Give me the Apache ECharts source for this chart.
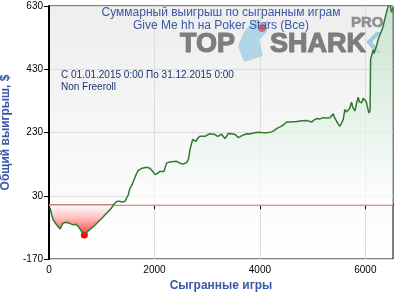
<!DOCTYPE html>
<html><head><meta charset="utf-8">
<script src="https://cdn.jsdelivr.net/npm/echarts@6/dist/echarts.min.js"></script>
<style>html,body{margin:0;padding:0;background:#fff}#c{width:394px;height:295px}</style>
</head><body><div id="c"></div>
<script>
const games = [20,50,80,110,145,175,210,240,270,300,330,365,400,430,460,500,530,555,590,620,650,670,700,745,780,810,840,870,900,935,970,1000,1030,1060,1090,1125,1160,1190,1220,1250,1283,1310,1340,1378,1410,1441,1470,1504,1536,1568,1600,1631,1660,1694,1720,1750,1789,1820,1850,1884,1915,1947,1980,2010,2029,2060,2080,2105,2140,2180,2200,2232,2260,2290,2327,2360,2390,2421,2450,2480,2516,2550,2579,2610,2642,2660,2674,2700,2725,2750,2787,2820,2863,2900,2958,3000,3053,3090,3148,3190,3230,3270,3300,3337,3370,3400,3432,3470,3500,3527,3560,3590,3622,3660,3700,3716,3760,3800,3843,3900,3970,4030,4095,4160,4222,4270,4317,4360,4412,4460,4507,4540,4570,4632,4700,4759,4820,4886,4930,4981,5030,5076,5140,5201,5260,5328,5360,5391,5420,5455,5480,5500,5518,5545,5580,5600,5612,5640,5675,5700,5720,5739,5760,5780,5802,5830,5865,5890,5929,5960,5991,6015,6036,6055,6073,6090,6100,6118,6149,6165,6181,6213,6244,6276,6307,6339,6371,6402,6433,6465,6497,6520];
const winnings = [-8,-30,-46,-52,-62,-66,-75,-70,-56,-60,-54,-55,-58,-57,-62,-60,-66,-67,-75,-83,-90,-94,-89,-81,-77,-72,-67,-63,-60,-52,-47,-42,-36,-31,-27,-20,-14,-8,1,6,12,9,13,10,14,12,22,33,54,62,75,88,100,110,106,116,118,113,120,123,117,113,104,97,93,101,98,107,103,107,112,134,131,137,136,138,135,139,137,133,134,130,128,135,144,160,176,192,208,206,202,212,218,214,218,222,226,221,224,218,220,225,221,211,218,227,231,226,228,224,218,214,213,220,223,224,226,225,227,229,231,230,229,230,232,236,242,246,250,256,263,262,263,264,265,266,267,268,266,263,270,274,273,277,276,277,282,289,276,266,258,262,250,258,271,290,303,295,292,305,316,326,310,315,298,320,342,326,324,338,335,328,314,300,292,300,462,472,492,480,483,504,525,530,551,567,589,610,628,640,610,622];
const xTicks = [0,2000,4000,6000];
const yTicks = [-170,30,230,430,630];
const minPoint = [670,-94];

const chart = echarts.init(document.getElementById('c'));
const data = games.map((g,i)=>[g,winnings[i]]);
const blue = '#3a58a6';
const wm = {font:'bold 27px Liberation Sans',fill:'#7d7d7d',stroke:'#7d7d7d',lineWidth:1.2};
chart.setOption({
  animation:false,
  backgroundColor:'#fff',
  textStyle:{fontFamily:'Liberation Sans, Arial, sans-serif'},
  grid:{left:49,right:1,top:6,bottom:36,outerBoundsMode:'none',containLabel:false,show:true,borderColor:'#000',borderWidth:1,
    backgroundColor:{type:'linear',x:0,y:0,x2:0,y2:1,colorStops:[{offset:0,color:'#eeeeee'},{offset:1,color:'#ffffff'}]}},
  graphic:[
    {type:'polygon',z:100,silent:true,shape:{points:[[244,62],[238,46],[244,32],[252,22],[258,19],[262,24],[268,20],[267,32],[259,40],[263,56]]},style:{fill:'rgba(150,200,225,0.7)'}},
    {type:'circle',z:101,silent:true,shape:{cx:262,cy:28,r:4},style:{fill:'rgba(225,80,90,0.8)'}},
    {type:'polygon',z:100,silent:true,shape:{points:[[376,32],[366,42],[376,53],[382,53],[372,42],[382,32]]},style:{fill:'rgba(150,200,225,0.9)'}},
    {type:'text',z:100,silent:true,x:180,y:31,style:Object.assign({text:'TOP'},wm)},
    {type:'text',z:100,silent:true,x:270,y:31,style:Object.assign({text:'SHARK'},wm)},
    {type:'text',z:100,silent:true,x:351,y:15,style:{text:'PRO',font:'bold 15px Liberation Sans',fill:'#8f8f8f',stroke:'#8f8f8f',lineWidth:0.6}},
    {type:'text',z:110,silent:true,x:221,y:7,style:{text:'Суммарный выигрыш по сыгранным играм',font:'12px Liberation Sans',fill:blue,textAlign:'center'}},
    {type:'text',z:110,silent:true,x:221,y:20,style:{text:'Give Me hh на Poker Stars (Все)',font:'12px Liberation Sans',fill:blue,textAlign:'center'}},
    {type:'text',z:110,silent:true,x:61,y:70,style:{text:'С 01.01.2015 0:00 По 31.12.2015 0:00',font:'10px Liberation Sans',fill:'#1f3370'}},
    {type:'text',z:110,silent:true,x:61,y:82,style:{text:'Non Freeroll',font:'10px Liberation Sans',fill:'#1f3370'}}
  ],
  xAxis:{type:'value',min:0,max:6525,
    name:'Сыгранные игры',nameLocation:'middle',nameGap:20,
    nameTextStyle:{color:blue,fontSize:12,fontWeight:'bold'},
    axisLine:{lineStyle:{color:'#000',width:2}},
    axisTick:{show:true,length:4,lineStyle:{color:'#000'},customValues:xTicks},
    axisLabel:{color:'#000',fontSize:10,margin:6,customValues:xTicks,formatter:v=>String(v)},
    splitLine:{show:true,lineStyle:{color:'#dcdcdc',width:1}}},
  yAxis:{type:'value',min:-170,max:630,
    name:'Общий выигрыш, $',nameLocation:'middle',nameGap:33,
    nameTextStyle:{color:blue,fontSize:12,fontWeight:'bold'},
    axisLine:{show:true,lineStyle:{color:'#000',width:2}},
    axisTick:{show:true,length:5,lineStyle:{color:'#000'},customValues:yTicks},
    axisLabel:{color:'#000',fontSize:10,margin:6,customValues:yTicks,formatter:v=>String(v)},
    splitLine:{show:true,lineStyle:{color:'#dcdcdc',width:1}}},
  series:[{
    type:'line',data:data,showSymbol:false,z:120,
    lineStyle:{color:'#2f7a30',width:1.5},
    areaStyle:{origin:0,color:{type:'linear',global:true,x:0,y:6,x2:0,y2:236,colorStops:[
      {offset:0,color:'#b8dfc3'},{offset:0.86,color:'#ffffff'},{offset:0.875,color:'#fff0f0'},{offset:0.92,color:'#ffa8a8'},{offset:0.975,color:'#ff2020'},{offset:1,color:'#ff0000'}]}},
    markLine:{silent:true,symbol:'none',label:{show:false},lineStyle:{color:'#d07c7c',width:2,type:'solid'},data:[{yAxis:0}]},
    markPoint:{silent:true,symbol:'circle',symbolSize:7,itemStyle:{color:'#ff0000'},label:{show:false},data:[{coord:minPoint}]}
  }]
});
</script></body></html>
